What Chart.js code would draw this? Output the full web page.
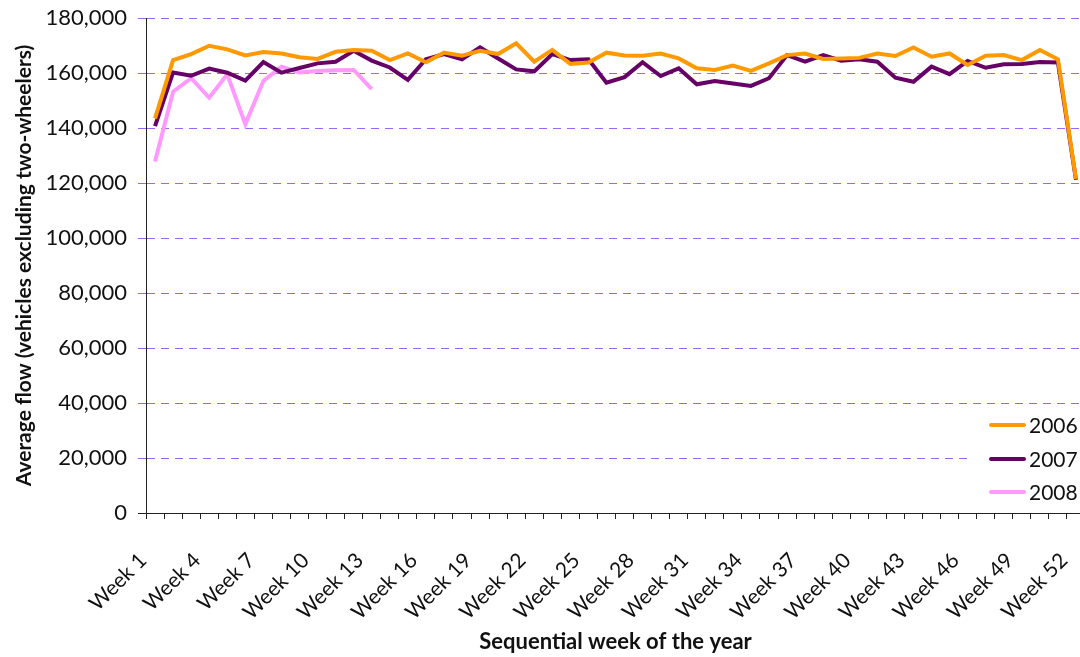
<!DOCTYPE html>
<html>
<head>
<meta charset="utf-8">
<script src="https://cdn.jsdelivr.net/npm/chart.js@4/dist/chart.umd.min.js"></script>
<style>
  html, body { margin: 0; padding: 0; background: #ffffff; overflow: hidden; }
  #wrap { width: 1085px; height: 657px; position: relative; }
</style>
</head>
<body>
<div id="wrap"><canvas id="c"></canvas></div>
<script>
const weeks = ["Week 1","Week 2","Week 3","Week 4","Week 5","Week 6","Week 7","Week 8","Week 9","Week 10",
  "Week 11","Week 12","Week 13","Week 14","Week 15","Week 16","Week 17","Week 18","Week 19","Week 20",
  "Week 21","Week 22","Week 23","Week 24","Week 25","Week 26","Week 27","Week 28","Week 29","Week 30",
  "Week 31","Week 32","Week 33","Week 34","Week 35","Week 36","Week 37","Week 38","Week 39","Week 40",
  "Week 41","Week 42","Week 43","Week 44","Week 45","Week 46","Week 47","Week 48","Week 49","Week 50",
  "Week 51","Week 52"];

const flow2006 = [143500,164700,166900,169900,168600,166400,167600,167100,165700,165100,
  167700,168400,168100,164700,167100,163900,167400,166300,168100,166900,
  170800,164100,168400,163300,163800,167400,166400,166300,167100,165300,
  161700,161100,162700,160800,163500,166500,167100,165100,165300,165500,
  167100,166200,169300,165900,167100,162900,166300,166500,164700,168400,
  165000,121500];

const flow2007 = [140700,160200,159000,161600,160100,157200,164000,160100,161800,163500,
  164100,168100,164500,162000,157500,165000,166900,165000,169300,165300,
  161300,160600,166900,164700,165000,156500,158500,163900,158900,161700,
  155900,157100,156200,155300,158100,166500,164100,166500,164500,165000,
  164100,158300,156800,162300,159600,164400,161900,163200,163300,164000,
  163800,121200];

const flow2008 = [127800,153200,158100,151000,159500,141400,157100,162300,160200,160700,
  161000,161100,154100];

const seriesNames = ["2006","2007","2008"];
const seriesColors = ["#FF9900","#660066","#FF99FF"];
const yTicks = [0,20000,40000,60000,80000,100000,120000,140000,160000,180000];

const FONT = "Lato, 'Open Sans', sans-serif";
const GRID = "#9966FF";

const legendPlugin = {
  id: 'insideLegend',
  afterDraw(chart) {
    const ctx = chart.ctx;
    ctx.save();
    ctx.fillStyle = '#ffffff';
    ctx.fillRect(968, 409, 1085 - 968, 98);
    const ys = [425, 459, 492];
    chart.data.datasets.forEach((ds, i) => {
      ctx.strokeStyle = ds.borderColor;
      ctx.lineWidth = 4;
      ctx.lineCap = 'round';
      ctx.beginPath();
      ctx.moveTo(991, ys[i]);
      ctx.lineTo(1024, ys[i]);
      ctx.stroke();
      ctx.fillStyle = '#111';
      ctx.font = "21px " + FONT;
      ctx.textAlign = 'left';
      ctx.textBaseline = 'middle';
      ctx.fillText(ds.label, 1029, ys[i] + 1);
    });
    ctx.restore();
  }
};

new Chart(document.getElementById('c'), {
  type: 'line',
  data: {
    labels: weeks,
    datasets: [
      { label: seriesNames[0], data: flow2006, borderColor: seriesColors[0], backgroundColor: seriesColors[0] },
      { label: seriesNames[1], data: flow2007, borderColor: seriesColors[1], backgroundColor: seriesColors[1] },
      { label: seriesNames[2], data: flow2008, borderColor: seriesColors[2], backgroundColor: seriesColors[2] }
    ].map(d => Object.assign(d, { borderWidth: 4, pointRadius: 0, pointHoverRadius: 0, tension: 0, fill: false }))
  },
  options: {
    responsive: true,
    maintainAspectRatio: false,
    animation: false,
    events: [],
    layout: { padding: { top: 18, right: 0, left: 0, bottom: 0 } },
    plugins: {
      legend: { display: false },
      tooltip: { enabled: false }
    },
    scales: {
      x: {
        type: 'category',
        offset: true,
        afterFit(scale) { scale.height = 144; scale.paddingRight = 0; scale.paddingLeft = 0; },
        grid: {
          offset: true,
          drawOnChartArea: false,
          drawTicks: true,
          tickLength: 6,
          tickColor: '#222',
          color: '#222'
        },
        border: { color: '#222', width: 1 },
        ticks: {
          autoSkip: false,
          maxRotation: 45,
          minRotation: 45,
          padding: 29,
          labelOffset: -12,
          color: '#111',
          font: { family: FONT, size: 21 },
          callback: function (val, idx) { return idx % 3 === 0 ? this.getLabelForValue(val) : ''; }
        },
        title: {
          display: true,
          text: 'Sequential week of the year',
          color: '#111',
          font: { family: FONT, size: 22, weight: 'bold' },
          padding: { top: 0, bottom: 2 }
        }
      },
      y: {
        min: 0,
        max: 180000,
        afterFit(scale) { scale.width = 146; scale.paddingTop = 0; scale.paddingBottom = 0; },
        afterBuildTicks(scale) { scale.ticks = yTicks.map(v => ({ value: v })); },
        grid: {
          color: (c) => (c.tick && c.tick.value === 0) ? 'rgba(0,0,0,0)' : GRID,
          tickColor: (c) => (c.tick && c.tick.value === 0) ? '#222' : GRID,
          tickLength: 8,
          tickBorderDash: [],
          lineWidth: 1
        },
        border: { color: '#222', width: 1, dash: [8, 6] },
        ticks: {
          padding: 11,
          color: '#111',
          font: { family: FONT, size: 22 },
          callback: (v) => v.toLocaleString('en-GB')
        },
        title: {
          display: true,
          text: 'Average flow (vehicles excluding two-wheelers)',
          color: '#111',
          font: { family: FONT, size: 21, weight: 'bold' },
          padding: { top: 12, bottom: 0 }
        }
      }
    }
  },
  plugins: [legendPlugin]
});
</script>
</body>
</html>
